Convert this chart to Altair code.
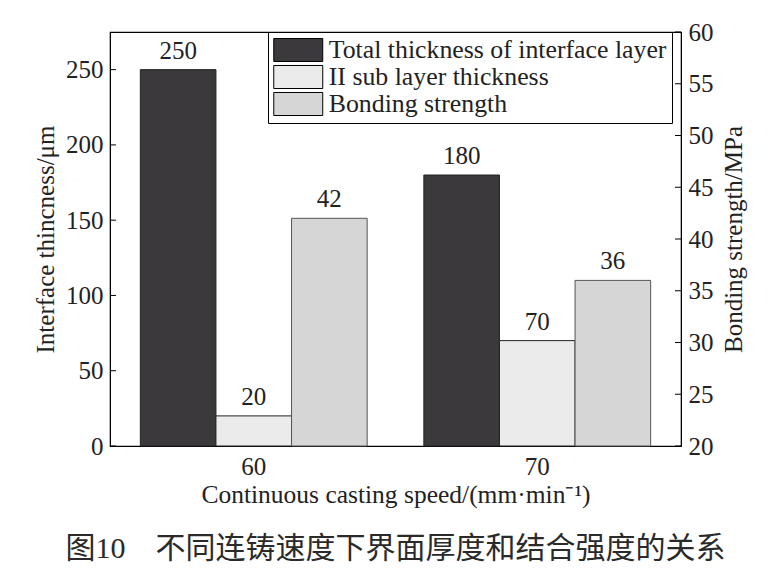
import altair as alt
import pandas as pd

speeds = ["60", "70"]
series_names = ["Total thickness of interface layer", "II  sub layer thickness", "Bonding strength"]
total_thickness = [250, 180]
sub_thickness = [20, 70]
bonding_strength = [42, 36]
left_ticks = [0, 50, 100, 150, 200, 250]
right_ticks = [20, 25, 30, 35, 40, 45, 50, 55, 60]
colors = ["#3b393b", "#ebebeb", "#d6d6d6"]

thick_df = pd.DataFrame({
    "speed": speeds * 2,
    "series": [series_names[0]] * 2 + [series_names[1]] * 2,
    "value": total_thickness + sub_thickness,
})
bond_df = pd.DataFrame({
    "speed": speeds,
    "series": [series_names[2]] * 2,
    "value": bonding_strength,
})

W, H = 571, 414
SERIF = "Liberation Serif"
TXT = "#222222"
FS = 25

x_enc = alt.X("speed:N", sort=speeds,
              scale=alt.Scale(paddingInner=0.2, paddingOuter=0.107),
              axis=alt.Axis(title="Continuous casting speed/(mm·min⁻¹)", labelAngle=0,
                            ticks=False, tickSize=0, labelPadding=8, titlePadding=3,
                            labelFont=SERIF, labelFontSize=FS, labelColor=TXT,
                            titleFont=SERIF, titleFontSize=FS + 0.5, titleColor=TXT,
                            titleFontWeight="normal", domainColor="black"))
xo_enc = alt.XOffset("series:N", sort=series_names,
                     scale=alt.Scale(domain=series_names, paddingInner=0, paddingOuter=0))
color_enc = alt.Color("series:N", sort=series_names,
                      scale=alt.Scale(domain=series_names, range=colors),
                      legend=alt.Legend(title=None, orient="none", legendX=158, legendY=0,
                                        direction="vertical",
                                        symbolType="M-2,-0.94H2V0.94H-2Z", symbolSize=600,
                                        symbolOffset=12.25,
                                        symbolStrokeColor="black", symbolStrokeWidth=1,
                                        symbolOpacity=1,
                                        labelFont=SERIF, labelFontSize=25.8, labelColor=TXT,
                                        labelLimit=500, labelOffset=17.5,
                                        strokeColor="black", fillColor="white",
                                        padding=5, rowPadding=-2))

left_scale = alt.Scale(domain=[0, 275], nice=False, zero=True)
right_scale = alt.Scale(domain=[20, 60], nice=False, zero=False)

left_axis = alt.Axis(title="Interface thincness/μm", values=left_ticks, ticks=False, tickSize=0,
                     labelPadding=7, titlePadding=7, grid=False,
                     labelFont=SERIF, labelFontSize=FS, labelColor=TXT,
                     titleFont=SERIF, titleFontSize=FS, titleColor=TXT,
                     titleFontWeight="normal", domainColor="black")
right_axis = alt.Axis(title="Bonding strength/MPa", values=right_ticks, ticks=False, tickSize=0,
                      orient="right", labelPadding=7, titlePadding=8, titleAngle=270,
                      titleBaseline="top", grid=False,
                      labelFont=SERIF, labelFontSize=FS, labelColor=TXT,
                      titleFont=SERIF, titleFontSize=FS, titleColor=TXT,
                      titleFontWeight="normal", domainColor="black")

bars_left = alt.Chart(thick_df).mark_bar(stroke="#222", strokeWidth=1).encode(
    x=x_enc, xOffset=xo_enc,
    y=alt.Y("value:Q", scale=left_scale, axis=left_axis),
    color=color_enc,
)
text_left = alt.Chart(thick_df).mark_text(baseline="bottom", dy=-6, font=SERIF,
                                          fontSize=FS, color=TXT).encode(
    x=alt.X("speed:N", sort=speeds), xOffset=xo_enc,
    y=alt.Y("value:Q", scale=left_scale),
    text="value:Q",
)
ticks_l = alt.Chart(pd.DataFrame({"t": left_ticks})).mark_rule(color="black").encode(
    x=alt.value(0), x2=alt.value(6),
    y=alt.Y("t:Q", scale=left_scale),
)
left_layer = alt.layer(bars_left, text_left, ticks_l)

bars_right = alt.Chart(bond_df).mark_bar(stroke="#555", strokeWidth=1).encode(
    x=alt.X("speed:N", sort=speeds), xOffset=xo_enc,
    y=alt.Y("value:Q", scale=right_scale, axis=right_axis),
    y2=alt.datum(20),
    color=color_enc,
)
text_right = alt.Chart(bond_df).mark_text(baseline="bottom", dy=-6, font=SERIF,
                                          fontSize=FS, color=TXT).encode(
    x=alt.X("speed:N", sort=speeds), xOffset=xo_enc,
    y=alt.Y("value:Q", scale=right_scale),
    text="value:Q",
)
ticks_r = alt.Chart(pd.DataFrame({"t": right_ticks})).mark_rule(color="black").encode(
    x=alt.value(W - 6), x2=alt.value(W),
    y=alt.Y("t:Q", scale=right_scale),
)
right_layer = alt.layer(bars_right, text_right, ticks_r)

chart = alt.layer(left_layer, right_layer).resolve_scale(y="independent").properties(
    width=W, height=H,
    autosize=alt.AutoSizeParams(type="none"),
    padding={"left": 110, "top": 32, "right": 100, "bottom": 131},
    background="white",
    title=alt.TitleParams("图10　不同连铸速度下界面厚度和结合强度的关系", orient="bottom",
                          anchor="middle", offset=26, font="Liberation Serif, Noto Sans CJK SC",
                          fontSize=30, fontWeight="normal", color="#2a2a2a"),
).configure_view(stroke="black", strokeWidth=1.2)

chart.save("out.html", embed_options={"renderer": "svg", "actions": False})
